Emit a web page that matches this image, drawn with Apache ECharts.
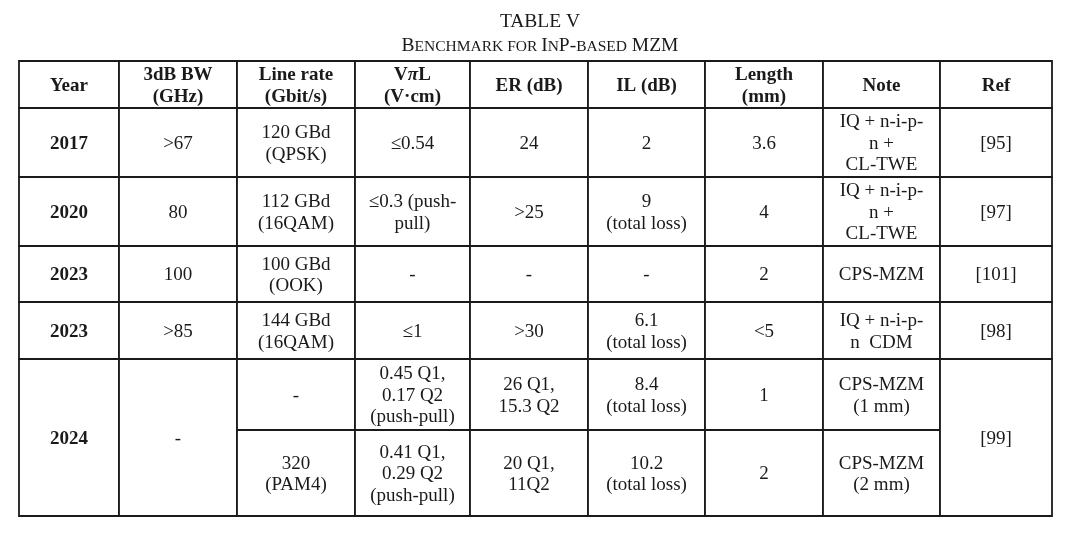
<!DOCTYPE html>
<html>
<head>
<meta charset="utf-8">
<script src="https://cdn.jsdelivr.net/npm/echarts@6/dist/echarts.min.js"></script>
<style>
html,body{margin:0;padding:0;background:#ffffff;}
#chart{width:1080px;height:533px;}
</style>
</head>
<body>
<div id="chart"></div>
<script>
// ---- data ----
const headers = ['Year', '3dB BW\n(GHz)', 'Line rate\n(Gbit/s)', 'VπL\n(V·cm)', 'ER (dB)', 'IL (dB)', 'Length\n(mm)', 'Note', 'Ref'];
const years = ['2017', '2020', '2023', '2023', '2024'];
const bandwidth = ['>67', '80', '100', '>85', '-'];
const lineRate = ['120 GBd\n(QPSK)', '112 GBd\n(16QAM)', '100 GBd\n(OOK)', '144 GBd\n(16QAM)', ['-', '320\n(PAM4)']];
const vpiL = ['≤0.54', '≤0.3 (push-\npull)', '-', '≤1', ['0.45 Q1,\n0.17 Q2\n(push-pull)', '0.41 Q1,\n0.29 Q2\n(push-pull)']];
const extinction = ['24', '>25', '-', '>30', ['26 Q1,\n15.3 Q2', '20 Q1,\n11Q2']];
const insertionLoss = ['2', '9\n(total loss)', '-', '6.1\n(total loss)', ['8.4\n(total loss)', '10.2\n(total loss)']];
const lengthMm = ['3.6', '4', '2', '<5', ['1', '2']];
const notes = ['IQ + n-i-p-\nn +\nCL-TWE', 'IQ + n-i-p-\nn +\nCL-TWE', 'CPS-MZM', 'IQ + n-i-p-\nn  CDM', ['CPS-MZM\n(1 mm)', 'CPS-MZM\n(2 mm)']];
const refs = ['[95]', '[97]', '[101]', '[98]', '[99]'];

// ---- layout (axis units) ----
const colEdges = [0, 100, 218, 336, 451, 569, 686, 804, 921, 1033];
const rowEdges = [0, 47, 116, 185, 241, 298, 369, 455];
const recordRows = [[1, 2], [2, 3], [3, 4], [4, 5], [5, 7]];

const columnsData = [years, bandwidth, lineRate, vpiL, extinction, insertionLoss, lengthMm, notes, refs];

const cells = [];
headers.forEach((h, c) => {
  cells.push({ value: [colEdges[c], rowEdges[0], colEdges[c + 1], rowEdges[1]], text: h, kind: 'header' });
});
years.forEach((_, r) => {
  const [rs, re] = recordRows[r];
  columnsData.forEach((arr, c) => {
    const v = arr[r];
    if (Array.isArray(v)) {
      v.forEach((t, k) => {
        cells.push({ value: [colEdges[c], rowEdges[rs + k], colEdges[c + 1], rowEdges[rs + k + 1]], text: t, kind: 'body' });
      });
    } else {
      cells.push({ value: [colEdges[c], rowEdges[rs], colEdges[c + 1], rowEdges[re]], text: v, kind: c === 0 ? 'year' : 'body' });
    }
  });
});

const FONT = '"Liberation Serif", "Times New Roman", serif';
const INK = '#1a1a1a';

const chart = echarts.init(document.getElementById('chart'), null, { renderer: 'canvas' });
chart.setOption({
  backgroundColor: '#ffffff',
  animation: false,
  title: [
    {
      text: 'TABLE V', left: 'center', top: 7,
      textStyle: { fontFamily: FONT, fontSize: 19.5, fontWeight: 'normal', color: INK }
    },
    {
      text: '{L|B}{s|ENCHMARK FOR }{L|I}{s|N}{L|P-}{s|BASED}{L| MZM}', left: 'center', top: 31,
      textStyle: {
        fontFamily: FONT, fontSize: 19.5, fontWeight: 'normal', color: INK,
        rich: {
          L: { fontFamily: FONT, fontSize: 19.5, fontWeight: 'normal', color: INK, verticalAlign: 'bottom' },
          s: { fontFamily: FONT, fontSize: 15.5, fontWeight: 'normal', color: INK, verticalAlign: 'bottom', padding: [0, 0, 1, 0] }
        }
      }
    }
  ],
  grid: { left: 19, top: 61, width: 1033, height: 455, containLabel: false },
  xAxis: { type: 'value', min: 0, max: 1033, show: false },
  yAxis: { type: 'value', min: 0, max: 455, inverse: true, show: false },
  series: [{
    type: 'custom',
    silent: true,
    clip: false,
    encode: { x: [0, 2], y: [1, 3] },
    data: cells.map(c => c.value),
    renderItem: function (params, api) {
      const p0 = api.coord([api.value(0), api.value(1)]);
      const p1 = api.coord([api.value(2), api.value(3)]);
      const cell = cells[params.dataIndex];
      const bold = cell.kind !== 'body';
      const txt = cell.kind === 'header' ? cell.text.replace('π', '{pi|π}') : cell.text;
      return {
        type: 'group',
        children: [
          {
            type: 'rect',
            shape: { x: p0[0], y: p0[1], width: p1[0] - p0[0], height: p1[1] - p0[1] },
            style: { fill: '#ffffff', stroke: INK, lineWidth: 1.8 }
          },
          {
            type: 'text',
            x: (p0[0] + p1[0]) / 2,
            y: (p0[1] + p1[1]) / 2 + 1.5,
            style: {
              text: txt,
              align: 'center',
              verticalAlign: 'middle',
              fontFamily: FONT,
              fontSize: 19,
              fontWeight: bold ? 'bold' : 'normal',
              fill: INK,
              lineHeight: cell.kind === 'header' ? 22.5 : 21.5,
              rich: {
                pi: { fontFamily: FONT, fontSize: 19, fontWeight: 'bold', fontStyle: 'italic', fill: INK, lineHeight: 22.5 }
              }
            }
          }
        ]
      };
    }
  }]
});
</script>
</body>
</html>
